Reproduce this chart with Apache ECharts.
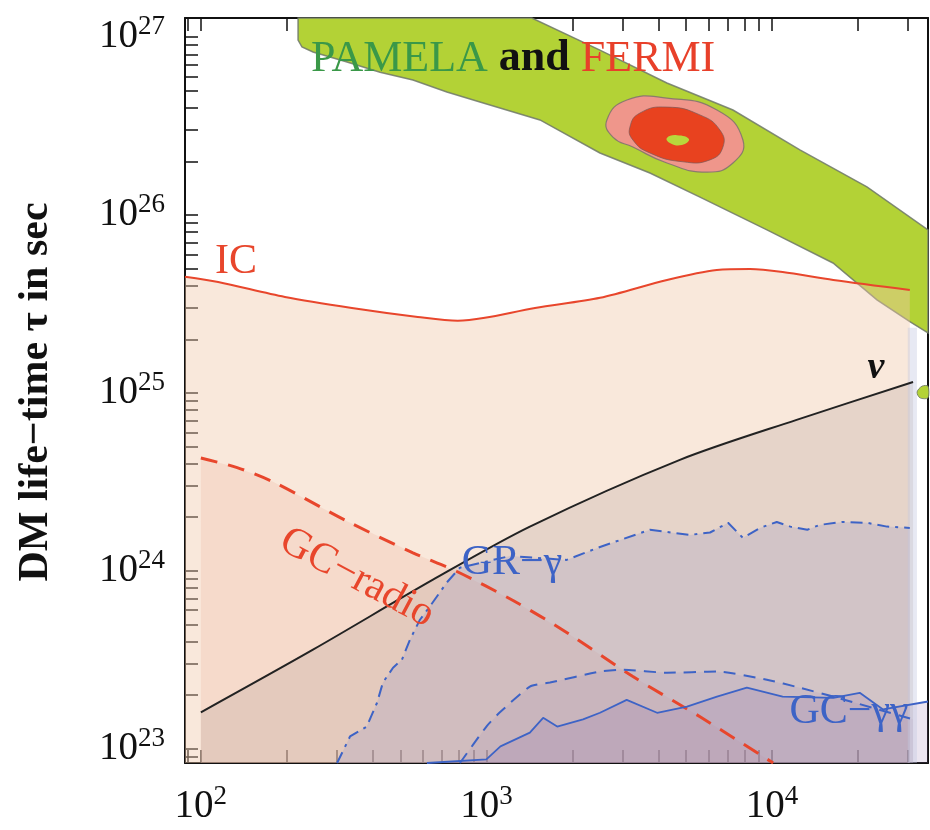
<!DOCTYPE html>
<html><head><meta charset="utf-8">
<script src="https://cdn.jsdelivr.net/npm/echarts@6/dist/echarts.min.js"></script>
<style>html,body{margin:0;padding:0;background:#fff}#c{width:930px;height:830px}</style>
</head><body><div id="c"></div>
<script>
// ---------- axis ranges / tick labels ----------
const xRange = [88, 35200];          // DM mass (GeV)
const yRange = [8.3e22, 1.28e27];    // lifetime (s)
const xDecades = [2, 3, 4];
const yDecades = [23, 24, 25, 26, 27];

// ---------- constraint curves [mass, tau] ----------
const icCurve = [[88,4.5e25],[115,4.2e25],[197,3.46e25],[338,3.0e25],[575,2.67e25],[794,2.54e25],[988,2.64e25],[1480,3.0e25],[2500,3.42e25],[4290,4.31e25],[6410,4.9e25],[8380,4.97e25],[10900,4.78e25],[16400,4.31e25],[30400,3.79e25]];
const radioCurve = [[100,4.3e24],[134,3.8e24],[179,3.16e24],[325,1.9e24],[553,1.26e24],[788,9.9e23],[1240,6.8e23],[1910,4.5e23],[3260,2.54e23],[5600,1.51e23],[10100,8.3e22]];
const nuCurve = [[100,1.6e23],[247,3.6e23],[650,8.9e23],[1420,1.77e24],[4760,4.2e24],[12200,7.05e24],[31200,1.15e25]];
const grCurve = [[300,8.3e22],[333,1.17e23],[381,1.33e23],[414,1.81e23],[434,2.35e23],[471,2.85e23],[506,3.16e23],[540,4.1e23],[585,5.3e23],[634,6.3e23],[727,8.6e23],[808,1.04e24],[1210,1.21e24],[1910,1.15e24],[2500,1.36e24],[3740,1.7e24],[5160,1.59e24],[6070,1.64e24],[7020,1.86e24],[7910,1.53e24],[9080,1.74e24],[10400,1.88e24],[11600,1.77e24],[13300,1.7e24],[14700,1.81e24],[17700,1.88e24],[21500,1.86e24],[25300,1.77e24],[30400,1.74e24]];
const gcDashCurve = [[808,8.3e22],[1000,1.33e23],[1120,1.61e23],[1420,2.23e23],[1670,2.35e23],[2500,2.71e23],[3000,2.78e23],[4290,2.67e23],[6420,2.71e23],[9600,2.44e23],[12500,2.2e23],[16400,1.96e23],[31200,1.46e23]];
const gcSolidCurve = [[619,8.3e22],[1000,8.7e22],[1120,1.03e23],[1420,1.23e23],[1580,1.49e23],[1770,1.33e23],[2180,1.46e23],[2500,1.59e23],[3100,1.88e23],[3960,1.59e23],[5040,1.72e23],[6420,1.96e23],[8170,2.2e23],[10900,1.96e23],[16400,1.93e23],[20300,2.06e23],[24500,1.66e23],[35200,1.84e23]];

// ---------- PAMELA / FERMI regions [mass, tau] ----------
const pamelaBand = [[219,1.28e27],[1443,1.28e27],[2498,8.45e26],[4287,5.52e26],[7303,3.89e26],[12530,2.32e26],[21510,1.44e26],[35200,8.24e25],[35200,2.17e25],[30400,2.51e25],[23320,3.33e25],[16360,5.37e25],[9605,8.24e25],[5597,1.26e26],[3738,1.72e26],[2498,2.23e26],[1540,3.42e26],[949,4.31e26],[727,4.91e26],[553,5.73e26],[424,6.35e26],[325,7.25e26],[247,8.24e26],[226,8.79e26],[219,9.62e26]];
const fermiOuter = [[2642,3.42e26],[3105,4.43e26],[4287,4.54e26],[6418,3.89e26],[7914,2.64e26],[7303,1.96e26],[5920,1.74e26],[4287,1.96e26],[3258,2.41e26],[2773,2.74e26]];
const fermiInner = [[3182,3.12e26],[3449,3.74e26],[4287,4.04e26],[5597,3.65e26],[6575,3.0e26],[6736,2.41e26],[6066,2.04e26],[4880,1.99e26],[3738,2.23e26],[3258,2.64e26]];
const bestFit = [[4287,2.71e26],[4649,2.81e26],[5120,2.67e26],[4839,2.47e26],[4392,2.54e26]];
const smallBlob = [[32200,1.01e25],[33530,1.09e25],[35200,1.09e25],[35200,9.37e24],[33000,9.37e24]];
const edgeStrip = [[29900,2.32e25],[32200,2.32e25],[32200,8.3e22],[29900,8.3e22]];

const L = Math.log10;
const xTicks = [], yTicks = [];
for (let n = 1; n <= 4; n++) for (let k = 1; k <= 9; k++) { const v = L(k) + n; if (v >= L(xRange[0]) && v <= L(xRange[1])) xTicks.push(v); }
for (let n = 22; n <= 27; n++) for (let k = 1; k <= 9; k++) { const v = L(k) + n; if (v >= L(yRange[0]) && v <= L(yRange[1])) yTicks.push(v); }

const SERIF = '"Liberation Serif","DejaVu Serif",serif';
const rich = {
  b: {fontFamily: SERIF, fontSize: 39, color: '#111', lineHeight: 40, padding: [7, 0, 0, 0]},
  s: {fontFamily: SERIF, fontSize: 27, color: '#111', lineHeight: 27, verticalAlign: 'top'}
};
const fmt = v => '{b|10}{s|' + Math.round(v) + '}';

function areaPts(curve) {
  return curve.concat([[curve[curve.length-1][0], yRange[0]], [curve[0][0], yRange[0]]]);
}
function poly(pts, style, z, smooth) {
  return {type: 'custom', xAxisIndex: 0, yAxisIndex: 0, z: z, silent: true, animation: false,
    data: [pts[0]],
    renderItem: (params, api) => ({type: 'polygon', shape: {points: pts.map(p => api.coord(p)), smooth: smooth || 0}, style: style})};
}
function line(data, color, width, type, z, smooth) {
  return {type: 'line', xAxisIndex: 0, yAxisIndex: 0, data: data, showSymbol: false, symbol: 'none', z: z,
    smooth: smooth || false, silent: true, animation: false,
    lineStyle: {color: color, width: width, type: type || 'solid'}};
}
const RED = '#e8462c', BLUE = '#3d63c6';

const valAxisCommon = (min, max, ticks, showTicks) => ({
  type: 'value', min: min, max: max, splitLine: {show: false},
  axisLine: {show: true, onZero: false, lineStyle: {color: '#111', width: 2}},
  axisTick: {show: showTicks, inside: true, length: 13, customValues: ticks, lineStyle: {color: '#111', width: 1.5}}
});

const chart = echarts.init(document.getElementById('c'), null, {renderer: 'canvas'});
chart.setOption({
  backgroundColor: '#fff',
  animation: false,
  grid: {left: 185, top: 18, right: 2, bottom: 67, containLabel: false, outerBoundsMode: 'none'},
  xAxis: [
    {type: 'log', logBase: 10, min: xRange[0], max: xRange[1], show: false, position: 'bottom'},
    Object.assign(valAxisCommon(L(xRange[0]), L(xRange[1]), xTicks, true), {position: 'bottom',
      axisLabel: {customValues: xDecades, formatter: fmt, rich: rich, margin: 20}}),
    Object.assign(valAxisCommon(L(xRange[0]), L(xRange[1]), xTicks, true), {position: 'top', axisLabel: {show: false}})
  ],
  yAxis: [
    {type: 'log', logBase: 10, min: yRange[0], max: yRange[1], show: false, position: 'left'},
    Object.assign(valAxisCommon(L(yRange[0]), L(yRange[1]), yTicks, true), {position: 'left',
      axisLabel: {customValues: yDecades, formatter: fmt, rich: rich, margin: 20, padding: [0, 0, 7, 0]}}),
    Object.assign(valAxisCommon(L(yRange[0]), L(yRange[1]), yTicks, false), {position: 'right', axisLabel: {show: false}})
  ],
  series: [
    poly(pamelaBand, {fill: '#b3d236', stroke: 'rgba(110,120,105,0.85)', lineWidth: 1.5}, 1),
    poly(fermiOuter, {fill: '#ef968b', stroke: 'rgba(120,110,110,0.8)', lineWidth: 1.2}, 2, 0.5),
    poly(fermiInner, {fill: '#e8421f', stroke: 'rgba(120,90,90,0.7)', lineWidth: 1}, 3, 0.5),
    poly(bestFit, {fill: '#b8d83c'}, 4, 0.5),
    poly(smallBlob, {fill: '#b3d236', stroke: 'rgba(110,120,105,0.85)', lineWidth: 1}, 4, 0.3),
    poly(areaPts(icCurve), {fill: 'rgba(240,200,170,0.42)'}, 5),
    poly(areaPts(radioCurve), {fill: 'rgba(235,165,140,0.2)'}, 6),
    poly(areaPts(nuCurve), {fill: 'rgba(185,165,158,0.3)'}, 7),
    poly(areaPts(grCurve), {fill: 'rgba(165,160,195,0.3)'}, 8),
    poly(areaPts(gcDashCurve), {fill: 'rgba(150,125,185,0.12)'}, 9),
    poly(areaPts(gcSolidCurve), {fill: 'rgba(145,110,170,0.18)'}, 9),
    poly(edgeStrip, {fill: 'rgba(195,200,225,0.4)'}, 9),
    line(icCurve, RED, 2, 'solid', 20, 0.3),
    line(radioCurve, RED, 3, [17, 11], 20, 0.3),
    line(nuCurve, '#222', 2, 'solid', 20, 0.3),
    line(grCurve, BLUE, 2, [12, 6, 3, 6], 21),
    line(gcDashCurve, BLUE, 2, [12, 8], 21, 0.2),
    line(gcSolidCurve, BLUE, 1.8, 'solid', 21)
  ],
  graphic: [
    {type: 'text', x: 311, y: 59, z: 100, style: {
      text: '{g|PAMELA}{k| and }{r|FERMI}', textVerticalAlign: 'middle', textAlign: 'left',
      rich: {g: {fontFamily: SERIF, fontSize: 44, fill: '#3a9848'}, k: {fontFamily: SERIF, fontSize: 44, fontWeight: 'bold', fill: '#111'}, r: {fontFamily: SERIF, fontSize: 44, fill: '#e8402a'}}}},
    {type: 'text', x: 36, y: 392, rotation: Math.PI / 2, z: 100, style: {
      text: 'DM life\u2212time \u03c4 in sec', textAlign: 'center', textVerticalAlign: 'middle',
      font: 'bold 42px ' + SERIF, fill: '#111'}},
    {type: 'text', x: 236, y: 262, z: 100, style: {text: 'IC', textAlign: 'center', textVerticalAlign: 'middle', font: '42px ' + SERIF, fill: RED}},
    {type: 'text', x: 357, y: 578, rotation: -0.49, z: 100, style: {text: 'GC\u2212radio', textAlign: 'center', textVerticalAlign: 'middle', font: '42px ' + SERIF, fill: RED}},
    {type: 'text', x: 512, y: 563, z: 100, style: {text: 'GR\u2212\u03b3', textAlign: 'center', textVerticalAlign: 'middle', font: '42px ' + SERIF, fill: BLUE}},
    {type: 'text', x: 849, y: 712, z: 100, style: {text: 'GC\u2212\u03b3\u03b3', textAlign: 'center', textVerticalAlign: 'middle', font: '42px ' + SERIF, fill: BLUE}},
    {type: 'text', x: 876, y: 368, z: 100, style: {text: '\u03bd', textAlign: 'center', textVerticalAlign: 'middle', font: 'italic bold 38px ' + SERIF, fill: '#111'}}
  ]
});
</script></body></html>
